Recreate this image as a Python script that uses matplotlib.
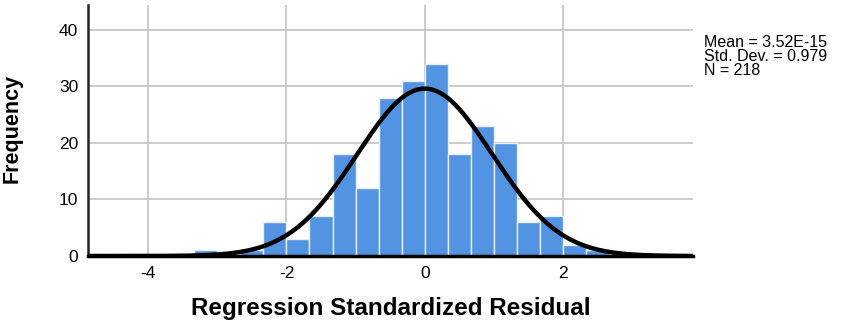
import numpy as np
import matplotlib
matplotlib.use("Agg")
import matplotlib.pyplot as plt

plt.rcParams["font.family"] = ["Liberation Sans", "DejaVu Sans"]
plt.rcParams["axes.unicode_minus"] = False

# histogram bins (left edges, width 1/3) and counts
bin_width = 1 / 3
bin_left = [-10/3, -3, -8/3, -7/3, -2, -5/3, -4/3, -1, -2/3, -1/3, 0, 1/3, 2/3, 1, 4/3, 5/3, 2, 7/3]
counts = [1, 0, 1, 6, 3, 7, 18, 12, 28, 31, 34, 18, 23, 20, 6, 7, 2, 1]
mean = 3.52e-15
std = 0.979
n = 218
xticks = [-4, -2, 0, 2]
yticks = [0, 10, 20, 30, 40]

fig = plt.figure(figsize=(8.57, 3.27), dpi=100)
ax = fig.add_axes([0.1027, 0.2171, 0.7059, 0.7676])

ax.bar(bin_left, counts, width=bin_width, align="edge", color="#5294e2",
       edgecolor="#e8eefa", linewidth=1.0, zorder=2)

xs = np.linspace(-4.87, 3.88, 400)
pdf = n * bin_width * np.exp(-0.5 * ((xs - mean) / std) ** 2) / (std * np.sqrt(2 * np.pi))
ax.plot(xs, pdf, color="black", linewidth=3.2, zorder=3, solid_capstyle="butt")

ax.set_xlim(-4.87, 3.88)
ax.set_ylim(0, 44.4)
ax.set_xticks(xticks)
ax.set_yticks(yticks)
ax.grid(True, color="#c4c4c4", linewidth=1.2, zorder=0)
ax.set_axisbelow(True)
ax.tick_params(length=0, labelsize=12.5, pad=7)
for s in ["top", "right"]:
    ax.spines[s].set_visible(False)
ax.spines["left"].set_linewidth(1.8)
ax.spines["left"].set_color("#222222")
ax.spines["bottom"].set_linewidth(2.5)
ax.spines["bottom"].set_color("black")

ax.set_xlabel("Regression Standardized Residual", fontsize=17.5, fontweight="bold", labelpad=12)
ax.set_ylabel("Frequency", fontsize=15.5, fontweight="bold")
ax.yaxis.set_label_coords(-0.108, 0.51)

fig.text(0.822, 0.893, "Mean = 3.52E-15\nStd. Dev. = 0.979\nN = 218",
         fontsize=11.5, va="top", ha="left", linespacing=0.93)

fig.savefig("out.png", dpi=100)
plt.close(fig)
